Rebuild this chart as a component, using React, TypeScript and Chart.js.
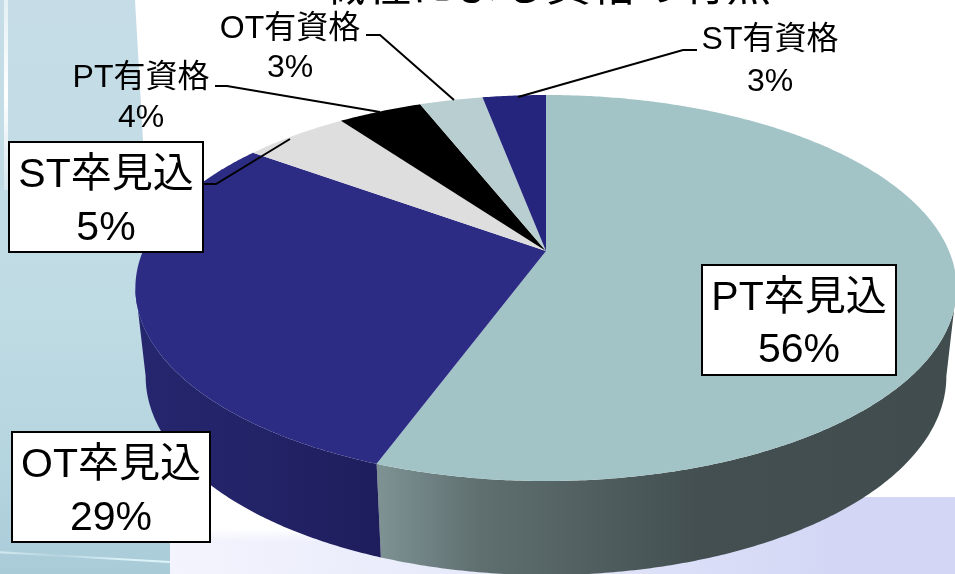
import React, { useEffect, useRef } from "react";
import { Chart, registerables } from "chart.js";

Chart.register(...registerables);

const categories = ["PT卒見込", "OT卒見込", "ST卒見込", "PT有資格", "OT有資格", "ST有資格"];
const shownPercent = [56, 29, 5, 4, 3, 3];
const sliceValues = [55.6, 29.4, 5, 4, 3, 3];
const topColors = ["#a3c4c7", "#2c2c85", "#dedede", "#000000", "#b9ced1", "#25257e"];
const titleText = "職種による資格の有無";

const FONT = '"Liberation Sans", "Noto Sans CJK JP", sans-serif';

// Projected-circle geometry of the tilted pie
const CX = 546;
const APEX_Y = 251;
const KP = -0.1917;
const AY = 137.8;
const CR = 403;

const project = (theta: number) => {
  const u = Math.sin(theta);
  const v = -Math.cos(theta);
  const d = 1 + KP * v;
  return { x: CX + (CR * u) / d, y: (AY * v + APEX_Y) / d, v };
};
const rim = (p: { x: number; y: number; v: number }) => ({
  x: CX + (p.x - CX) * 0.975,
  y: p.y + 87 + 7 * p.v,
});

const wallStops: Record<number, [number, string][]> = {
  0: [[383, "#7d9192"], [480, "#5f6f70"], [700, "#434f50"], [960, "#404c4d"]],
  1: [[135, "#26266f"], [250, "#232368"], [383, "#1e1d5c"]],
};

const boxLayout = [
  { index: 0, x: 702, y: 265, w: 194, h: 110, tx: 799, y1: 299, y2: 351 },
  { index: 1, x: 12, y: 432, w: 198, h: 110, tx: 111, y1: 466, y2: 519 },
  { index: 2, x: 9, y: 142, w: 194, h: 110, tx: 106, y1: 176, y2: 229 },
];
const plainLayout = [
  { index: 3, tx: 141, y1: 78, y2: 118 },
  { index: 4, tx: 290, y1: 29, y2: 68 },
  { index: 5, tx: 770, y1: 40, y2: 82 },
];
const leaders = [
  [[366, 35], [380, 35], [454, 100]],
  [[215, 86], [227, 86], [380, 112]],
  [[697, 50], [683, 50], [518, 97]],
  [[204, 184], [216, 184], [290, 139]],
];

const piePlugin = {
  id: "tiltedPie",
  beforeDatasetsDraw(chart: any) {
    const ctx = chart.ctx as CanvasRenderingContext2D;
    const arcs = chart.getDatasetMeta(0).data;
    const STEP = Math.PI / 360;

    ctx.save();
    // side walls, between the two silhouette angles
    const lo = (101 * Math.PI) / 180;
    const hi = (259 * Math.PI) / 180;
    arcs.forEach((arc: any, i: number) => {
      const a0 = Math.max(arc.startAngle + Math.PI / 2, lo);
      const a1 = Math.min(arc.endAngle + Math.PI / 2, hi);
      if (a1 <= a0) return;
      const top: any[] = [];
      for (let t = a0; t < a1; t += STEP) top.push(project(t));
      top.push(project(a1));
      const grad = ctx.createLinearGradient(0, 0, 955, 0);
      (wallStops[i] || [[0, "#333"], [955, "#333"]]).forEach(([x, c]) =>
        grad.addColorStop(Math.min(1, Math.max(0, x / 955)), c),
      );
      ctx.fillStyle = grad;
      ctx.beginPath();
      top.forEach((p, k) => (k ? ctx.lineTo(p.x, p.y) : ctx.moveTo(p.x, p.y)));
      top
        .slice()
        .reverse()
        .forEach((p) => {
          const b = rim(p);
          ctx.lineTo(b.x, b.y);
        });
      ctx.closePath();
      ctx.fill();
    });

    // top face
    arcs.forEach((arc: any) => {
      const a0 = arc.startAngle + Math.PI / 2;
      const a1 = arc.endAngle + Math.PI / 2;
      ctx.beginPath();
      ctx.moveTo(CX, APEX_Y);
      for (let t = a0; t < a1; t += STEP) {
        const p = project(t);
        ctx.lineTo(p.x, p.y);
      }
      const e = project(a1);
      ctx.lineTo(e.x, e.y);
      ctx.closePath();
      ctx.fillStyle = arc.options.backgroundColor;
      ctx.fill();
    });
    ctx.restore();
    return false;
  },
  afterDraw(chart: any) {
    const ctx = chart.ctx as CanvasRenderingContext2D;
    ctx.save();
    ctx.textAlign = "center";
    ctx.textBaseline = "middle";

    ctx.strokeStyle = "#000";
    ctx.lineWidth = 2;
    leaders.forEach((pts) => {
      ctx.beginPath();
      pts.forEach(([x, y], k) => (k ? ctx.lineTo(x, y) : ctx.moveTo(x, y)));
      ctx.stroke();
    });

    boxLayout.forEach((b) => {
      ctx.fillStyle = "#fff";
      ctx.fillRect(b.x, b.y, b.w, b.h);
      ctx.lineWidth = 2;
      ctx.strokeStyle = "#000";
      ctx.strokeRect(b.x, b.y, b.w, b.h);
      ctx.fillStyle = "#000";
      ctx.font = `41px ${FONT}`;
      ctx.fillText(categories[b.index], b.tx, b.y1);
      ctx.fillText(`${shownPercent[b.index]}%`, b.tx, b.y2);
    });

    ctx.fillStyle = "#000";
    ctx.font = `32px ${FONT}`;
    plainLayout.forEach((b) => {
      ctx.fillText(categories[b.index], b.tx, b.y1);
      ctx.fillText(`${shownPercent[b.index]}%`, b.tx, b.y2);
    });

    ctx.textBaseline = "alphabetic";
    ctx.font = `45px ${FONT}`;
    ctx.fillText(titleText, 546, 1);
    ctx.restore();
  },
};

export default function App() {
  const ref = useRef<HTMLCanvasElement>(null);
  useEffect(() => {
    const chart = new Chart(ref.current as HTMLCanvasElement, {
      type: "pie",
      data: {
        labels: categories,
        datasets: [{ data: sliceValues, backgroundColor: topColors, borderWidth: 0 }],
      },
      options: {
        animation: false,
        responsive: false,
        plugins: { legend: { display: false }, tooltip: { enabled: false } },
      },
      plugins: [piePlugin],
    } as any);
    return () => chart.destroy();
  }, []);

  return (
    <div style={{ position: "fixed", left: 0, top: 0, width: 955, height: 574, overflow: "hidden", background: "#fff" }}>
      <div
        style={{
          position: "absolute",
          left: 170,
          top: 497,
          width: 785,
          height: 77,
          background: "linear-gradient(90deg,#f3f4fd 0%,#e6e9fa 40%,#d3d7f5 85%)",
        }}
      />
      <div
        style={{
          position: "absolute",
          left: 170,
          top: 497,
          width: 300,
          height: 45,
          background: "linear-gradient(180deg,#ffffff 70%,rgba(255,255,255,0) 100%)",
        }}
      />
      <div
        style={{
          position: "absolute",
          left: 0,
          top: 0,
          width: 175,
          height: 574,
          clipPath: "polygon(0 0,135px 0,143px 140px,170px 530px,170px 574px,0 574px)",
          background: "linear-gradient(180deg,#c6dde7 0%,#bfdbe4 55%,#b3d4de 85%,#a9cbd8 100%)",
        }}
      />
      <div
        style={{
          position: "absolute",
          left: 4,
          top: 0,
          width: 4,
          height: 190,
          background: "linear-gradient(180deg,#e4f0f4,#ffffff 50%,#d6e7ee)",
        }}
      />
      <div
        style={{
          position: "absolute",
          left: -2,
          top: 556,
          width: 172,
          height: 2,
          transform: "rotate(3.3deg)",
          background: "linear-gradient(90deg,#d5eaf0,#b4d3de 35%,#d8eff5 70%,#dff4f9)",
        }}
      />
      <canvas ref={ref} width={955} height={574} style={{ position: "absolute", left: 0, top: 0, display: "block" }} />
    </div>
  );
}
